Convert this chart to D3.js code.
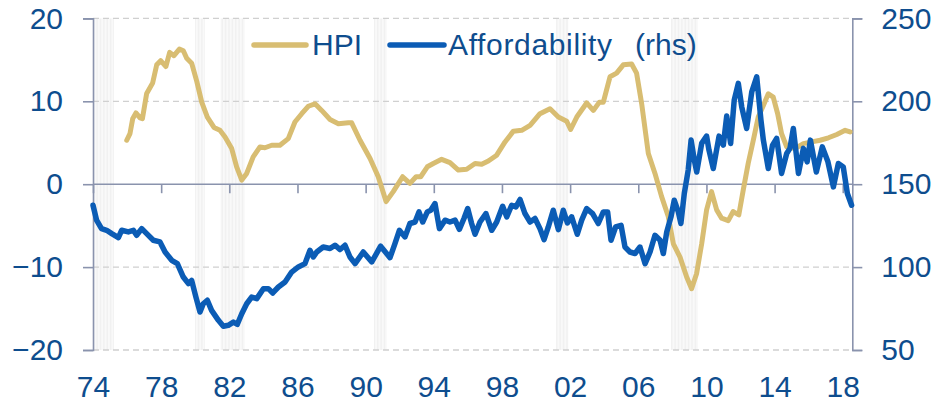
<!DOCTYPE html>
<html><head><meta charset="utf-8">
<script src="https://cdn.jsdelivr.net/npm/d3@7"></script>
<style>
html,body{margin:0;padding:0;background:#fff;}
svg{display:block;font-family:"Liberation Sans",Arial,sans-serif;}
</style></head>
<body><svg id="c" width="935" height="404"></svg>
<script>
// ---- data ----
const hpiDates = [1975.98,1976.17,1976.33,1976.52,1976.76,1976.9,1977.15,1977.5,1977.74,1977.97,1978.28,1978.5,1978.75,1979.07,1979.3,1979.5,1979.79,1980.09,1980.38,1980.71,1981.1,1981.45,1981.75,1982.14,1982.43,1982.73,1983.02,1983.4,1983.8,1984.09,1984.49,1984.97,1985.46,1985.85,1986.25,1986.63,1987.03,1987.42,1987.91,1988.4,1988.98,1989.18,1989.67,1990.26,1990.74,1991.2,1991.62,1992.17,1992.6,1992.96,1993.23,1993.62,1993.97,1994.46,1994.95,1995.44,1995.93,1996.42,1996.81,1997.2,1997.69,1998.18,1998.67,1999.16,1999.65,2000.23,2000.82,2001.31,2001.8,2002.03,2002.39,2002.97,2003.36,2003.72,2003.95,2004.34,2004.73,2005.12,2005.61,2005.9,2006.2,2006.59,2006.98,2007.37,2007.76,2008.06,2008.45,2008.84,2009.13,2009.42,2009.72,2010.01,2010.3,2010.6,2010.89,2011.28,2011.57,2011.9,2012.16,2012.45,2012.75,2013.04,2013.34,2013.63,2013.92,2014.18,2014.41,2014.71,2015.2,2015.69,2016.18,2016.67,2017.16,2017.65,2018.14,2018.43];
const hpiValues = [5.3,6.1,7.9,8.6,8.0,7.9,10.95,12.2,14.4,14.9,14.2,15.9,15.5,16.3,16.1,15.2,14.6,12.4,9.9,8.1,6.85,6.5,5.7,4.3,2.1,0.5,1.3,3.3,4.5,4.4,4.7,4.7,5.5,7.5,8.5,9.4,9.7,8.9,7.8,7.3,7.4,7.4,5.3,3.1,0.9,-2.1,-0.9,0.9,0.1,0.9,0.9,2.1,2.5,3.0,2.6,1.7,1.8,2.5,2.4,2.8,3.5,5.1,6.4,6.5,7.1,8.5,9.1,8.1,7.6,6.6,8.1,9.8,8.9,9.9,9.9,12.96,13.4,14.4,14.5,13.4,9.7,3.7,1.3,-1.5,-3.9,-7.2,-8.8,-11.2,-12.6,-10.8,-7.2,-3.1,-0.9,-3.1,-4.1,-4.4,-3.3,-3.7,-0.7,2.5,5.3,8.1,9.5,10.9,10.5,8.5,6.1,4.5,4.3,4.9,5.1,5.3,5.6,6.0,6.5,6.3];

const affDates = [1974.0,1974.21,1974.5,1974.8,1975.1,1975.49,1975.68,1976.07,1976.37,1976.56,1976.86,1977.15,1977.54,1977.93,1978.23,1978.62,1978.95,1979.3,1979.6,1979.79,1980.04,1980.28,1980.47,1980.71,1980.96,1981.36,1981.65,1981.94,1982.24,1982.47,1982.73,1983.02,1983.31,1983.61,1984.0,1984.29,1984.55,1984.88,1985.27,1985.66,1986.05,1986.44,1986.73,1986.93,1987.13,1987.51,1987.91,1988.2,1988.5,1988.79,1989.08,1989.38,1989.86,1990.36,1990.88,1991.43,1991.72,1991.98,1992.31,1992.6,1992.9,1993.13,1993.35,1993.62,1993.82,1994.07,1994.33,1994.66,1994.95,1995.25,1995.5,1995.77,1995.99,1996.22,1996.42,1996.71,1997.06,1997.4,1997.69,1998.04,1998.28,1998.57,1998.82,1999.06,1999.35,1999.65,1999.94,2000.23,2000.47,2000.72,2001.01,2001.31,2001.6,2001.84,2002.09,2002.42,2002.68,2002.97,2003.32,2003.65,2003.95,2004.2,2004.4,2004.67,2004.99,2005.22,2005.51,2005.81,2006.1,2006.4,2006.69,2006.98,2007.28,2007.47,2007.67,2007.92,2008.11,2008.35,2008.5,2008.7,2008.93,2009.1,2009.29,2009.43,2009.72,2010.01,2010.15,2010.4,2010.74,2010.99,2011.19,2011.42,2011.63,2011.87,2012.07,2012.36,2012.66,2012.95,2013.2,2013.34,2013.63,2013.88,2014.12,2014.41,2014.71,2014.9,2015.1,2015.4,2015.69,2015.91,2016.1,2016.45,2016.8,2017.13,2017.45,2017.74,2018.03,2018.27,2018.52];
const affValues = [137.3,128.3,123.2,122.2,120.2,117.8,122.2,121.2,122.2,119.2,123.2,120.2,116.2,115.2,109.1,104.1,102.1,94.0,90.0,92.0,81.9,72.9,77.9,80.0,73.9,67.9,64.3,64.9,66.8,65.5,71.9,77.9,81.9,81.0,87.0,87.0,84.4,88.0,91.0,97.0,100.1,102.1,110.1,106.1,109.1,112.1,111.2,113.2,110.6,113.2,106.1,102.1,109.1,103.1,112.6,105.7,114.2,122.2,118.2,126.3,127.2,133.3,127.2,133.3,134.3,138.3,123.2,128.3,127.2,128.3,122.8,129.3,135.3,126.3,119.8,127.2,132.3,122.2,127.2,136.7,130.3,137.3,136.3,140.8,132.3,127.2,129.3,123.2,116.6,124.2,134.3,122.6,134.3,126.6,130.3,119.8,128.3,135.3,132.3,126.3,133.3,133.3,116.2,124.2,125.2,112.1,109.1,108.2,112.1,102.1,109.1,119.2,116.2,108.2,121.2,130.3,140.3,133.3,126.3,144.4,158.5,176.6,164.5,157.4,174.6,179.0,170.5,159.5,179.0,173.6,191.1,174.6,200.7,210.8,196.7,183.6,205.7,214.8,188.6,176.6,159.5,173.6,177.6,156.5,168.5,171.6,183.6,156.5,171.6,163.5,176.6,157.4,172.5,163.5,148.4,162.5,160.4,144.4,137.3];

const recessionStart = [1974.0, 1980.0, 1981.5, 1990.5, 2001.17, 2007.92];
const recessionEnd   = [1975.2, 1980.55, 1982.9, 1991.2, 2001.87, 2009.45];

const xTickYears  = [1974,1978,1982,1986,1990,1994,1998,2002,2006,2010,2014,2018];
const xTickLabels = ["74","78","82","86","90","94","98","02","06","10","14","18"];
const leftTicks   = [-20,-10,0,10,20];
const rightTicks  = [50,100,150,200,250];
const seriesNames = ["HPI","Affordability","(rhs)"];

// ---- chart ----
const textColor = "#0E4D8E", axisColor = "#8A93AD";
const hpiColor = "#D8BD72", affColor = "#0B5CB5";
const svg = d3.select("#c");
const x  = d3.scaleLinear().domain([1974, 2018.56]).range([93, 852.3]);
const yL = d3.scaleLinear().domain([-20, 20]).range([350, 18.4]);
const yR = d3.scaleLinear().domain([50, 250]).range([350, 18.4]);

// recession stripes (monthly)
const stripes = svg.append("g");
recessionStart.forEach((s, i) => {
  const months = d3.range(s, recessionEnd[i], 1/12);
  stripes.selectAll(null).data(months).enter().append("rect")
    .attr("x", d => x(d)).attr("width", 0.8)
    .attr("y", yL(20)).attr("height", yL(-20) - yL(20))
    .attr("fill", "#eeeeee");
});

// gridlines
svg.append("g").selectAll("line").data(leftTicks.filter(d => d !== 0)).enter().append("line")
  .attr("x1", x(1974)).attr("x2", x(2018.56))
  .attr("y1", d => yL(d)).attr("y2", d => yL(d))
  .attr("stroke", "#d0d0d0").attr("stroke-width", 1.3).attr("stroke-dasharray", "6,4");

// left axis
const gl = svg.append("g").attr("transform", `translate(${x(1974)},0)`)
  .call(d3.axisLeft(yL).tickValues(leftTicks).tickSize(10).tickPadding(20).tickFormat(d3.format("d")));
// right axis
const gr = svg.append("g").attr("transform", `translate(${x(2018.56)},0)`)
  .call(d3.axisRight(yR).tickValues(rightTicks).tickSize(10).tickPadding(19).tickFormat(d3.format("d")));
// x axis at zero
const gx = svg.append("g").attr("transform", `translate(0,${yL(0)})`)
  .call(d3.axisBottom(x).tickValues(xTickYears).tickSize(9).tickSizeOuter(0)
    .tickFormat((d, i) => xTickLabels[i]));
gx.selectAll("text").attr("y", 213).attr("dy", 0);

[gl, gr, gx].forEach(g => {
  g.select(".domain").attr("stroke", axisColor).attr("stroke-width", 1.6);
  g.selectAll(".tick line").attr("stroke", axisColor).attr("stroke-width", 1.6);
  g.selectAll("text").attr("fill", textColor).attr("font-size", 30)
    .attr("font-family", "'Liberation Sans', Arial, sans-serif");
});
gx.select(".domain").attr("d", `M${x(1974)},0H${x(2018.56)}`);

// lines
const hpiData = hpiDates.map((d, i) => [d, hpiValues[i]]);
const affData = affDates.map((d, i) => [d, affValues[i]]);
svg.append("path").datum(hpiData)
  .attr("d", d3.line().x(d => x(d[0])).y(d => yL(d[1])))
  .attr("fill", "none").attr("stroke", hpiColor).attr("stroke-width", 5)
  .attr("stroke-linejoin", "round").attr("stroke-linecap", "round");
svg.append("path").datum(affData)
  .attr("d", d3.line().x(d => x(d[0])).y(d => yR(d[1])))
  .attr("fill", "none").attr("stroke", affColor).attr("stroke-width", 5.5)
  .attr("stroke-linejoin", "round").attr("stroke-linecap", "round");

// legend
const lg = svg.append("g");
lg.append("line").attr("x1", 254).attr("x2", 306).attr("y1", 45).attr("y2", 45)
  .attr("stroke", hpiColor).attr("stroke-width", 5.5).attr("stroke-linecap", "round");
lg.append("text").attr("x", 312).attr("y", 55).text(seriesNames[0])
  .attr("fill", textColor).attr("font-size", 30);
lg.append("line").attr("x1", 390).attr("x2", 444).attr("y1", 45).attr("y2", 45)
  .attr("stroke", affColor).attr("stroke-width", 5.5).attr("stroke-linecap", "round");
lg.append("text").attr("x", 448).attr("y", 55).text(seriesNames[1])
  .attr("fill", textColor).attr("font-size", 30).attr("textLength", 164);
lg.append("text").attr("x", 635).attr("y", 55).text(seriesNames[2])
  .attr("fill", textColor).attr("font-size", 30);
</script></body></html>
